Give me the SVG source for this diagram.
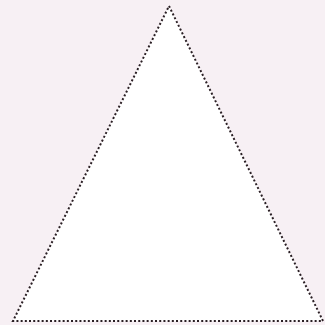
<svg xmlns="http://www.w3.org/2000/svg" width="325" height="325" viewBox="0 0 325 325">
<style>
.tri{fill:#ffffff;stroke:#2a1f24;stroke-width:2;stroke-dasharray:2 2.2;}
</style>
<rect width="325" height="325" fill="#f7f0f4"/>
<g id="triangle">
<polygon class="tri" points="169,6 323,321 13,321"/>
</g>
</svg>
